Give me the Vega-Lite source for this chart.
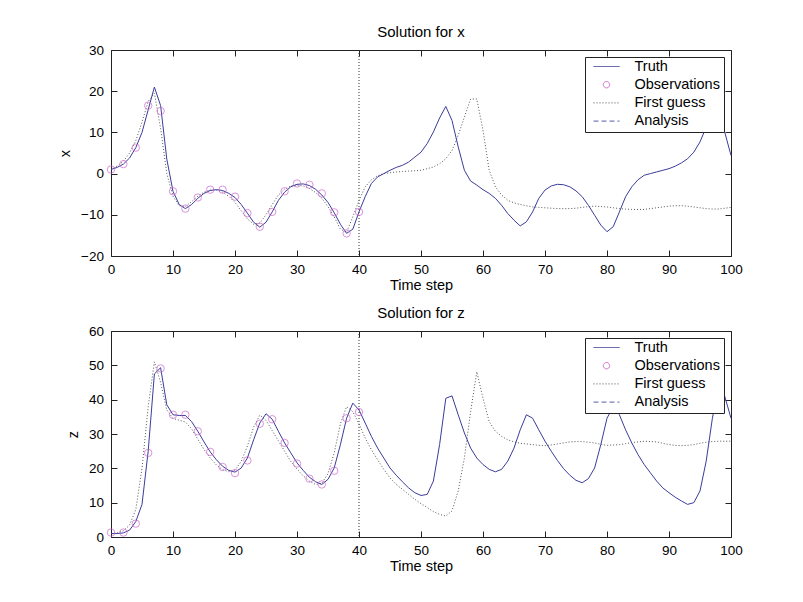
{
  "$schema": "https://vega.github.io/schema/vega-lite/v6.json",
  "background": "white",
  "padding": {"left": 57, "top": 24, "right": 0, "bottom": 0},
  "spacing": 12,
  "config": {
    "view": {"stroke": "#222222", "strokeWidth": 1},
    "font": "Liberation Sans",
    "axis": {"domain": false, "grid": false, "tickSize": -6, "tickColor": "#222222", "labelFlush": false, "labelFont": "Liberation Sans", "labelFontSize": 13.5, "labelColor": "black", "titleFont": "Liberation Sans", "titleFontSize": 14.5, "titleFontWeight": "normal", "titleColor": "black"},
    "axisX": {"labelPadding": 12, "titlePadding": 3},
    "axisY": {"labelPadding": 13.5, "titlePadding": 8},
    "title": {"font": "Liberation Sans", "fontSize": 15, "fontWeight": "normal", "color": "black", "offset": 3}
  },
  "datasets": {
    "xs": [
      {"t":0,"truth":1.0,"guess":1.0},{"t":1,"truth":1.5,"guess":1.8},{"t":2,"truth":2.3,"guess":3},{"t":3,"truth":3.8,"guess":5},{"t":4,"truth":6.3,"guess":8},
      {"t":5,"truth":10,"guess":12.5},{"t":6,"truth":15.5,"guess":17.5},{"t":7,"truth":21,"guess":19.5},{"t":8,"truth":16.5,"guess":11},{"t":9,"truth":3.5,"guess":0},
      {"t":10,"truth":-4.3,"guess":-5.5},{"t":11,"truth":-7.5,"guess":-7.8},{"t":12,"truth":-8.5,"guess":-8},{"t":13,"truth":-7.5,"guess":-6.8},{"t":14,"truth":-6,"guess":-5.5},
      {"t":15,"truth":-4.8,"guess":-4.5},{"t":16,"truth":-4.1,"guess":-4},{"t":17,"truth":-3.9,"guess":-4},{"t":18,"truth":-4.1,"guess":-4.5},{"t":19,"truth":-4.8,"guess":-5.5},
      {"t":20,"truth":-5.8,"guess":-7},{"t":21,"truth":-7.5,"guess":-9},{"t":22,"truth":-9.6,"guess":-11},{"t":23,"truth":-11.8,"guess":-12.3},{"t":24,"truth":-13,"guess":-12},
      {"t":25,"truth":-11.8,"guess":-10},{"t":26,"truth":-9.3,"guess":-7.5},{"t":27,"truth":-6.5,"guess":-5.2},{"t":28,"truth":-4.5,"guess":-3.8},{"t":29,"truth":-3.2,"guess":-3},
      {"t":30,"truth":-2.6,"guess":-2.8},{"t":31,"truth":-2.5,"guess":-3},{"t":32,"truth":-2.9,"guess":-3.6},{"t":33,"truth":-3.8,"guess":-4.6},{"t":34,"truth":-5.2,"guess":-6},
      {"t":35,"truth":-7,"guess":-8},{"t":36,"truth":-9.5,"guess":-10.5},{"t":37,"truth":-12.3,"guess":-13.5},{"t":38,"truth":-14.5,"guess":-14.2},{"t":39,"truth":-13.5,"guess":-10.5},
      {"t":40,"truth":-9.3,"guess":-6.5},{"t":41,"truth":-5.6,"guess":-3.2},{"t":42,"truth":-2.4,"guess":-1.5},{"t":43,"truth":-0.8,"guess":-0.5},{"t":44,"truth":0,"guess":0},
      {"t":45,"truth":0.8,"guess":0.2},{"t":46,"truth":1.5,"guess":0.4},{"t":47,"truth":2,"guess":0.5},{"t":48,"truth":2.8,"guess":0.6},{"t":49,"truth":4,"guess":0.7},
      {"t":50,"truth":5.2,"guess":0.8},{"t":51,"truth":7.3,"guess":1.2},{"t":52,"truth":10.1,"guess":1.6},{"t":53,"truth":13.5,"guess":2.4},{"t":54,"truth":16.3,"guess":3.6},
      {"t":55,"truth":12.9,"guess":5.6},{"t":56,"truth":6.5,"guess":9.3},{"t":57,"truth":0.8,"guess":13.7},{"t":58,"truth":-1.8,"guess":18.1},{"t":59,"truth":-2.8,"guess":18.1},
      {"t":60,"truth":-3.9,"guess":10.5},{"t":61,"truth":-4.8,"guess":0.8},{"t":62,"truth":-6,"guess":-3.2},{"t":63,"truth":-7.7,"guess":-5.2},{"t":64,"truth":-9.7,"guess":-6.5},
      {"t":65,"truth":-11.3,"guess":-7.1},{"t":66,"truth":-12.7,"guess":-7.5},{"t":67,"truth":-11.7,"guess":-7.8},{"t":68,"truth":-9.3,"guess":-8.1},{"t":69,"truth":-6,"guess":-8.2},
      {"t":70,"truth":-4,"guess":-8.3},{"t":71,"truth":-3,"guess":-8.4},{"t":72,"truth":-2.6,"guess":-8.5},{"t":73,"truth":-2.7,"guess":-8.5},{"t":74,"truth":-3.2,"guess":-8.5},
      {"t":75,"truth":-4.2,"guess":-8.4},{"t":76,"truth":-5.6,"guess":-8.2},{"t":77,"truth":-7.7,"guess":-8.0},{"t":78,"truth":-10.1,"guess":-7.9},{"t":79,"truth":-12.5,"guess":-8.0},
      {"t":80,"truth":-14.1,"guess":-8.1},{"t":81,"truth":-12.9,"guess":-8.3},{"t":82,"truth":-9.3,"guess":-8.5},{"t":83,"truth":-5.6,"guess":-8.6},{"t":84,"truth":-3.2,"guess":-8.7},
      {"t":85,"truth":-1.5,"guess":-8.7},{"t":86,"truth":-0.4,"guess":-8.7},{"t":87,"truth":0,"guess":-8.5},{"t":88,"truth":0.4,"guess":-8.3},{"t":89,"truth":0.8,"guess":-8.1},
      {"t":90,"truth":1.2,"guess":-7.9},{"t":91,"truth":1.8,"guess":-7.8},{"t":92,"truth":2.6,"guess":-7.8},{"t":93,"truth":3.6,"guess":-7.9},{"t":94,"truth":5.2,"guess":-8.1},
      {"t":95,"truth":7.7,"guess":-8.3},{"t":96,"truth":11.3,"guess":-8.5},{"t":97,"truth":14.5,"guess":-8.6},{"t":98,"truth":15.5,"guess":-8.6},{"t":99,"truth":10,"guess":-8.4},
      {"t":100,"truth":4.4,"guess":-8.2}
    ],
    "xo": [
      {"t":0,"obs":1.0},{"t":2,"obs":2.3},{"t":4,"obs":6.3},{"t":6,"obs":16.5},{"t":8,"obs":15.2},{"t":10,"obs":-4.3},{"t":12,"obs":-8.5},
      {"t":14,"obs":-5.8},{"t":16,"obs":-3.9},{"t":18,"obs":-3.9},{"t":20,"obs":-5.6},{"t":22,"obs":-9.6},{"t":24,"obs":-12.9},{"t":26,"obs":-9.3},
      {"t":28,"obs":-4.3},{"t":30,"obs":-2.4},{"t":32,"obs":-2.7},{"t":34,"obs":-4.8},{"t":36,"obs":-9.4},{"t":38,"obs":-14.5},{"t":40,"obs":-9.3}
    ],
    "zs": [
      {"t":0,"truth":1,"guess":1},{"t":1,"truth":1,"guess":1.2},{"t":2,"truth":1.2,"guess":1.8},{"t":3,"truth":2,"guess":3.5},{"t":4,"truth":4.5,"guess":8},
      {"t":5,"truth":9.5,"guess":20},{"t":6,"truth":25,"guess":38},{"t":7,"truth":47.5,"guess":51},{"t":8,"truth":49.3,"guess":45},{"t":9,"truth":38.5,"guess":37},
      {"t":10,"truth":35.6,"guess":34.5},{"t":11,"truth":35.4,"guess":34},{"t":12,"truth":35.4,"guess":33.5},{"t":13,"truth":33.6,"guess":31.5},{"t":14,"truth":30.8,"guess":28.5},
      {"t":15,"truth":27.7,"guess":25.5},{"t":16,"truth":24.8,"guess":23},{"t":17,"truth":22.5,"guess":21},{"t":18,"truth":20.6,"guess":19.6},{"t":19,"truth":19.4,"guess":19},
      {"t":20,"truth":18.9,"guess":19.5},{"t":21,"truth":20.1,"guess":22},{"t":22,"truth":23,"guess":26.5},{"t":23,"truth":28.3,"guess":32},{"t":24,"truth":33.2,"guess":35.5},
      {"t":25,"truth":35.9,"guess":34},{"t":26,"truth":34.3,"guess":31},{"t":27,"truth":30.8,"guess":28},{"t":28,"truth":27.4,"guess":25},{"t":29,"truth":24.5,"guess":22},
      {"t":30,"truth":21.6,"guess":19.8},{"t":31,"truth":19.4,"guess":17.8},{"t":32,"truth":17.4,"guess":16.3},{"t":33,"truth":16.1,"guess":15.3},{"t":34,"truth":15.3,"guess":15.6},
      {"t":35,"truth":16.8,"guess":18.5},{"t":36,"truth":20.1,"guess":24.5},{"t":37,"truth":26.9,"guess":33},{"t":38,"truth":34.6,"guess":38},{"t":39,"truth":39,"guess":36.5},
      {"t":40,"truth":37,"guess":33},{"t":41,"truth":33.2,"guess":28.8},{"t":42,"truth":29.3,"guess":25.4},{"t":43,"truth":25.9,"guess":22.5},{"t":44,"truth":23,"guess":19.7},
      {"t":45,"truth":20.1,"guess":17.2},{"t":46,"truth":18,"guess":15.3},{"t":47,"truth":16.1,"guess":13.9},{"t":48,"truth":14.3,"guess":12.4},{"t":49,"truth":12.9,"guess":11},
      {"t":50,"truth":12.1,"guess":9.7},{"t":51,"truth":12.4,"guess":8.6},{"t":52,"truth":16.3,"guess":7.4},{"t":53,"truth":26.9,"guess":6.6},{"t":54,"truth":40.4,"guess":6.1},
      {"t":55,"truth":41.1,"guess":7.6},{"t":56,"truth":35.6,"guess":13.4},{"t":57,"truth":30.3,"guess":23},{"t":58,"truth":25.9,"guess":36.5},{"t":59,"truth":23,"guess":48.1},
      {"t":60,"truth":21.1,"guess":40.4},{"t":61,"truth":19.7,"guess":33.6},{"t":62,"truth":19,"guess":30.8},{"t":63,"truth":19.7,"guess":29.3},{"t":64,"truth":22.1,"guess":28.3},
      {"t":65,"truth":25.9,"guess":27.7},{"t":66,"truth":31.2,"guess":27.3},{"t":67,"truth":35.6,"guess":27.1},{"t":68,"truth":34.6,"guess":26.9},{"t":69,"truth":31.2,"guess":26.7},
      {"t":70,"truth":27.9,"guess":26.6},{"t":71,"truth":25,"guess":26.8},{"t":72,"truth":22.3,"guess":27.1},{"t":73,"truth":19.9,"guess":27.4},{"t":74,"truth":18,"guess":27.7},
      {"t":75,"truth":16.5,"guess":27.8},{"t":76,"truth":15.8,"guess":27.8},{"t":77,"truth":17,"guess":27.6},{"t":78,"truth":20.1,"guess":27.4},{"t":79,"truth":26.9,"guess":27.0},
      {"t":80,"truth":34.6,"guess":26.7},{"t":81,"truth":38,"guess":26.8},{"t":82,"truth":35.6,"guess":26.9},{"t":83,"truth":31.2,"guess":27.2},{"t":84,"truth":27.4,"guess":27.5},
      {"t":85,"truth":24,"guess":27.7},{"t":86,"truth":21.1,"guess":27.9},{"t":87,"truth":18.7,"guess":27.8},{"t":88,"truth":16.3,"guess":27.7},{"t":89,"truth":14.3,"guess":27.3},
      {"t":90,"truth":12.9,"guess":26.9},{"t":91,"truth":11.6,"guess":26.7},{"t":92,"truth":10.5,"guess":26.6},{"t":93,"truth":9.5,"guess":26.7},{"t":94,"truth":10,"guess":26.9},
      {"t":95,"truth":13.4,"guess":27.3},{"t":96,"truth":22.1,"guess":27.6},{"t":97,"truth":34.6,"guess":27.8},{"t":98,"truth":44,"guess":27.9},{"t":99,"truth":40.9,"guess":27.9},
      {"t":100,"truth":34.6,"guess":27.9}
    ],
    "zo": [
      {"t":0,"obs":1.3},{"t":2,"obs":1.3},{"t":4,"obs":3.9},{"t":6,"obs":24.5},{"t":8,"obs":49.1},{"t":10,"obs":35.6},{"t":12,"obs":35.6},
      {"t":14,"obs":30.8},{"t":16,"obs":24.8},{"t":18,"obs":20.4},{"t":20,"obs":18.6},{"t":22,"obs":22.3},{"t":24,"obs":33},{"t":26,"obs":34.3},
      {"t":28,"obs":27.4},{"t":30,"obs":21.4},{"t":32,"obs":17},{"t":34,"obs":15.3},{"t":36,"obs":19.3},{"t":38,"obs":34.6},{"t":40,"obs":36.4}
    ],
    "split": [{"t": 40}]
  },
  "resolve": {"scale": {"color": "independent"}},
  "vconcat": [
    {
      "title": "Solution for x",
      "width": 620,
      "height": 206,
      "resolve": {"axis": {"x": "independent", "y": "independent"}},
      "layer": [
        {
          "data": {"name": "split"},
          "mark": {"type": "rule", "color": "#333333", "strokeDash": [1, 2], "strokeWidth": 1},
          "encoding": {"x": {"field": "t", "type": "quantitative", "scale": {"domain": [0, 100], "nice": false}, "axis": null}}
        },
        {
          "data": {"name": "xs"},
          "mark": {"type": "line", "strokeWidth": 1, "strokeDash": [1, 2]},
          "encoding": {
            "x": {"field": "t", "type": "quantitative", "scale": {"domain": [0, 100], "nice": false}, "axis": {"orient": "top", "labels": false, "title": null, "values": [0,10,20,30,40,50,60,70,80,90,100]}},
            "y": {"field": "guess", "type": "quantitative", "scale": {"domain": [-20, 30], "nice": false, "zero": false}, "axis": {"orient": "right", "labels": false, "title": null, "values": [-20,-10,0,10,20,30]}},
            "color": {"datum": "First guess", "type": "nominal", "scale": {"domain": ["Truth", "Observations", "First guess", "Analysis"], "range": ["#3c3c9a", "#cc66cc", "#555555", "#5a5aaa"]}, "legend": {"title": null, "orient": "top-right", "offset": 7, "padding": 3.5, "strokeColor": "#222222", "fillColor": "white", "labelFont": "Liberation Sans", "labelFontSize": 14.5, "labelColor": "black", "symbolSize": 676, "clipHeight": 12, "rowPadding": 3.2, "labelOffset": 14.5, "symbolOffset": 4.5,
              "encode": {"symbols": {"update": {
                "fill": {"value": "transparent"},
                "strokeWidth": {"value": 1},
                "shape": {"signal": "datum.value === 'Observations' ? 'circle' : 'stroke'"},
                "size": {"signal": "datum.value === 'Observations' ? 40 : 676"},
                "stroke": {"signal": "datum.value === 'Observations' ? '#cc66cc' : datum.value === 'First guess' ? '#555555' : datum.value === 'Analysis' ? '#5a5aaa' : '#3c3c9a'"},
                "strokeDash": {"signal": "datum.value === 'First guess' ? [1, 2] : datum.value === 'Analysis' ? [5, 3] : [1, 0]"}
              }}}}}
          }
        },
        {
          "data": {"name": "xs"},
          "mark": {"type": "line", "strokeWidth": 1},
          "encoding": {
            "x": {"field": "t", "type": "quantitative", "scale": {"domain": [0, 100], "nice": false}, "axis": {"orient": "bottom", "title": "Time step", "values": [0,10,20,30,40,50,60,70,80,90,100]}},
            "y": {"field": "truth", "type": "quantitative", "scale": {"domain": [-20, 30], "nice": false, "zero": false}, "axis": {"orient": "left", "title": "x", "values": [-20,-10,0,10,20,30]}},
            "color": {"datum": "Truth", "type": "nominal"}
          }
        },
        {
          "data": {"name": "xo"},
          "mark": {"type": "point", "shape": "circle", "filled": false, "size": 55, "strokeWidth": 1},
          "encoding": {
            "x": {"field": "t", "type": "quantitative", "axis": null},
            "y": {"field": "obs", "type": "quantitative", "axis": null},
            "color": {"datum": "Observations", "type": "nominal"}
          }
        }
      ]
    },
    {
      "title": "Solution for z",
      "width": 620,
      "height": 206,
      "resolve": {"axis": {"x": "independent", "y": "independent"}},
      "layer": [
        {
          "data": {"name": "split"},
          "mark": {"type": "rule", "color": "#333333", "strokeDash": [1, 2], "strokeWidth": 1},
          "encoding": {"x": {"field": "t", "type": "quantitative", "scale": {"domain": [0, 100], "nice": false}, "axis": null}}
        },
        {
          "data": {"name": "zs"},
          "mark": {"type": "line", "strokeWidth": 1, "strokeDash": [1, 2]},
          "encoding": {
            "x": {"field": "t", "type": "quantitative", "scale": {"domain": [0, 100], "nice": false}, "axis": {"orient": "top", "labels": false, "title": null, "values": [0,10,20,30,40,50,60,70,80,90,100]}},
            "y": {"field": "guess", "type": "quantitative", "scale": {"domain": [0, 60], "nice": false}, "axis": {"orient": "right", "labels": false, "title": null, "values": [0,10,20,30,40,50,60]}},
            "color": {"datum": "First guess", "type": "nominal", "scale": {"domain": ["Truth", "Observations", "First guess", "Analysis"], "range": ["#3c3c9a", "#cc66cc", "#555555", "#5a5aaa"]}, "legend": {"title": null, "orient": "top-right", "offset": 7, "padding": 3.5, "strokeColor": "#222222", "fillColor": "white", "labelFont": "Liberation Sans", "labelFontSize": 14.5, "labelColor": "black", "symbolSize": 676, "clipHeight": 12, "rowPadding": 3.2, "labelOffset": 14.5, "symbolOffset": 4.5,
              "encode": {"symbols": {"update": {
                "fill": {"value": "transparent"},
                "strokeWidth": {"value": 1},
                "shape": {"signal": "datum.value === 'Observations' ? 'circle' : 'stroke'"},
                "size": {"signal": "datum.value === 'Observations' ? 40 : 676"},
                "stroke": {"signal": "datum.value === 'Observations' ? '#cc66cc' : datum.value === 'First guess' ? '#555555' : datum.value === 'Analysis' ? '#5a5aaa' : '#3c3c9a'"},
                "strokeDash": {"signal": "datum.value === 'First guess' ? [1, 2] : datum.value === 'Analysis' ? [5, 3] : [1, 0]"}
              }}}}}
          }
        },
        {
          "data": {"name": "zs"},
          "mark": {"type": "line", "strokeWidth": 1},
          "encoding": {
            "x": {"field": "t", "type": "quantitative", "scale": {"domain": [0, 100], "nice": false}, "axis": {"orient": "bottom", "title": "Time step", "values": [0,10,20,30,40,50,60,70,80,90,100]}},
            "y": {"field": "truth", "type": "quantitative", "scale": {"domain": [0, 60], "nice": false}, "axis": {"orient": "left", "title": "z", "values": [0,10,20,30,40,50,60]}},
            "color": {"datum": "Truth", "type": "nominal"}
          }
        },
        {
          "data": {"name": "zo"},
          "mark": {"type": "point", "shape": "circle", "filled": false, "size": 55, "strokeWidth": 1},
          "encoding": {
            "x": {"field": "t", "type": "quantitative", "axis": null},
            "y": {"field": "obs", "type": "quantitative", "axis": null},
            "color": {"datum": "Observations", "type": "nominal"}
          }
        }
      ]
    }
  ]
}
